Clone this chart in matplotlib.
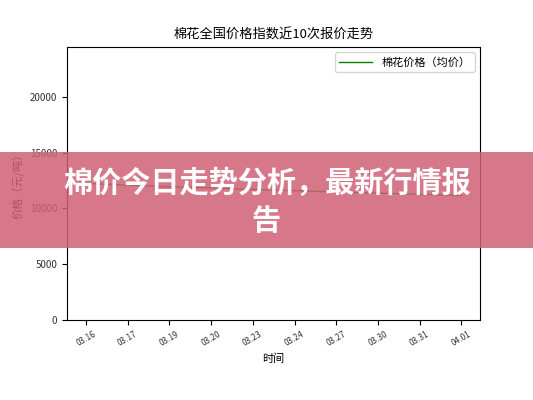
import matplotlib.pyplot as plt
from matplotlib.patches import Rectangle

plt.rcParams['font.family'] = ['Noto Sans CJK SC', 'DejaVu Sans']

fechas = ['03.16', '03.17', '03.19', '03.20', '03.23', '03.24', '03.27', '03.30', '03.31', '04.01']
precios = [12250, 12100, 11950, 11850, 11700, 11600, 11480, 11380, 11270, 11180]

fig = plt.figure(figsize=(5.33, 4.0), dpi=100)
ax = fig.add_axes([0.126, 0.2, 0.775, 0.683])

ax.plot(range(len(fechas)), precios, color='green', linewidth=1, label='棉花价格（均价）')
ax.set_ylim(0, max(precios) * 2)
ax.set_xticks(range(len(fechas)))
ax.set_xticklabels(fechas, rotation=30, fontsize=6, color='#333333')
ax.tick_params(axis='y', labelsize=7, labelcolor='#333333')
ax.set_title('棉花全国价格指数近10次报价走势', fontsize=9.5)
ax.set_xlabel('时间', fontsize=8)
ax.set_ylabel('价格（元/吨）', fontsize=8)
ax.legend(loc='upper right', fontsize=8, handlelength=3)

# banda superpuesta con el titular
fig.patches.append(Rectangle((0, 0.38), 1, 0.24, transform=fig.transFigure,
                             facecolor=(207/255, 96/255, 118/255), alpha=0.85, zorder=10))
fig.text(0.5, 0.542, '棉价今日走势分析，最新行情报', ha='center', va='center',
         fontsize=21, fontweight='heavy', color='white', zorder=11)
fig.text(0.5, 0.447, '告', ha='center', va='center',
         fontsize=21, fontweight='heavy', color='white', zorder=11)

plt.savefig('out.png', dpi=100)
plt.close()
